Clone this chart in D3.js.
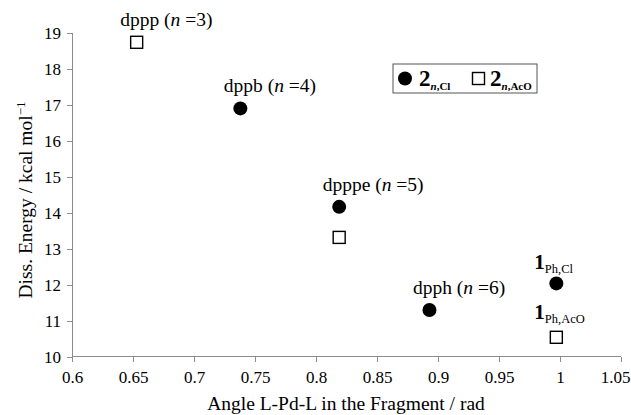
<!DOCTYPE html>
<html>
<head>
<meta charset="utf-8">
<script src="https://d3js.org/d3.v7.min.js"></script>
<style>
  body { margin: 0; background: #fff; }
  svg { display: block; }
  text { font-family: "Liberation Serif", "Times New Roman", serif; fill: #000; }
  .axis path, .axis line { stroke: #8c8c8c; stroke-width: 1; shape-rendering: crispEdges; }
  .axis text { font-size: 17px; font-family: "Liberation Serif", "Times New Roman", serif; }
  .title { font-size: 19.5px; }
  .lbl { font-size: 19.5px; }
</style>
</head>
<body>
<div id="chart"></div>
<script>
// data
var ligands   = ["dppp", "dppb", "dpppe", "dpph"];
var nValues   = [3, 4, 5, 6];
var angles    = [0.653, 0.738, 0.819, 0.893];
var energyCl  = [null, 16.91, 14.17, 11.30];
var energyAcO = [18.75, null, 13.32, null];
var refAngle  = 0.997;
var refCl     = 12.04;
var refAcO    = 10.54;

var xTicks = [0.6, 0.65, 0.7, 0.75, 0.8, 0.85, 0.9, 0.95, 1, 1.05];
var yTicks = [10, 11, 12, 13, 14, 15, 16, 17, 18, 19];

var W = 631, H = 415;
var svg = d3.select("#chart").append("svg").attr("width", W).attr("height", H);

var x = d3.scaleLinear().domain([0.6, 1.05]).range([72, 621]);
var y = d3.scaleLinear().domain([10, 19]).range([356.7, 33.3]);

// axes
var xa = svg.append("g")
    .attr("class", "axis")
    .attr("transform", "translate(0," + y(10) + ")")
    .call(d3.axisBottom(x).tickValues(xTicks).tickSize(5).tickPadding(9)
        .tickFormat(function(d) { return String(+d.toFixed(2)); }));
xa.attr("font-family", null).attr("font-size", null);
xa.select(".domain").attr("d", "M" + x(0.6) + ",0H" + x(1.05));
// last label sits a bit left, as in the original
xa.selectAll(".tick text").filter(function(d) { return d === 1.05; })
    .attr("text-anchor", "end").attr("x", 9);

var ya = svg.append("g")
    .attr("class", "axis")
    .attr("transform", "translate(" + x(0.6) + ",0)")
    .call(d3.axisLeft(y).tickValues(yTicks).tickSize(5).tickPadding(6));
ya.attr("font-family", null).attr("font-size", null);
ya.select(".domain").attr("d", "M0," + y(10) + "V" + y(19));

// axis titles
svg.append("text").attr("class", "title")
    .attr("x", 346).attr("y", 410).attr("text-anchor", "middle")
    .text("Angle L-Pd-L in the Fragment / rad");

var yt = svg.append("text").attr("class", "title")
    .attr("transform", "translate(32,200) rotate(-90)")
    .attr("text-anchor", "middle");
yt.append("tspan").text("Diss. Energy / kcal mol");
yt.append("tspan").attr("dy", -7).attr("font-size", 13).text("\u22121");

// points
var cl = [], aco = [];
angles.forEach(function(a, i) {
    if (energyCl[i] != null) cl.push({x: a, y: energyCl[i]});
    if (energyAcO[i] != null) aco.push({x: a, y: energyAcO[i]});
});
cl.push({x: refAngle, y: refCl});
aco.push({x: refAngle, y: refAcO});

svg.selectAll(".cl").data(cl).enter().append("circle")
    .attr("cx", function(d) { return x(d.x); })
    .attr("cy", function(d) { return y(d.y); })
    .attr("r", 7).attr("fill", "#000");

var sq = 12;
svg.selectAll(".aco").data(aco).enter().append("rect")
    .attr("x", function(d) { return x(d.x) - sq / 2; })
    .attr("y", function(d) { return y(d.y) - sq / 2; })
    .attr("width", sq).attr("height", sq)
    .attr("fill", "#fff").attr("stroke", "#000").attr("stroke-width", 1.4);

// ligand labels
ligands.forEach(function(name, i) {
    var e = energyCl[i] != null ? energyCl[i] : energyAcO[i];
    var t = svg.append("text").attr("class", "lbl")
        .attr("x", x(angles[i]) - 16.5).attr("y", y(e) - 16);
    t.append("tspan").text(name + " (");
    t.append("tspan").attr("font-style", "italic").text("n");
    t.append("tspan").text(" =" + nValues[i] + ")");
});

// reference complex labels
function refLabel(val, sub, dy) {
    var t = svg.append("text")
        .attr("x", x(refAngle) - 22).attr("y", y(val) + dy);
    t.append("tspan").attr("font-size", 21).attr("font-weight", "bold").text("1");
    t.append("tspan").attr("font-size", 12.5).attr("dy", 4).text(sub);
}
refLabel(refCl, "Ph,Cl", -14);
refLabel(refAcO, "Ph,AcO", -18);

// legend
var lg = svg.append("g");
lg.append("rect").attr("x", 393).attr("y", 64).attr("width", 144).attr("height", 29)
    .attr("fill", "#fff").attr("stroke", "#555").attr("stroke-width", 1);
lg.append("circle").attr("cx", 405).attr("cy", 78.5).attr("r", 7).attr("fill", "#000");
lg.append("rect").attr("x", 472.5).attr("y", 72.5).attr("width", sq).attr("height", sq)
    .attr("fill", "#fff").attr("stroke", "#000").attr("stroke-width", 1.4);

function legText(px, sub) {
    var t = lg.append("text").attr("x", px).attr("y", 86).attr("font-weight", "bold");
    t.append("tspan").attr("font-size", 23).text("2");
    t.append("tspan").attr("font-size", 11).attr("dy", 4).attr("font-style", "italic").text("n");
    t.append("tspan").attr("font-size", 11).text(sub);
}
legText(419, ",Cl");
legText(490, ",AcO");
</script>
</body>
</html>
